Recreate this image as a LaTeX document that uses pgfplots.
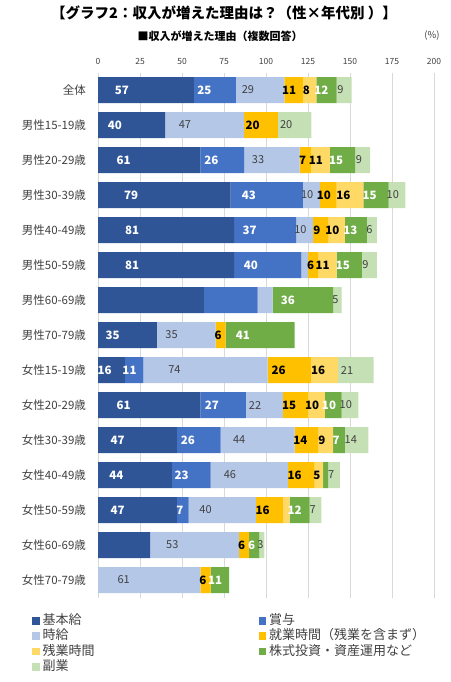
\documentclass[border=0pt]{standalone}
\usepackage{fontspec}
\setmainfont{Noto Sans CJK JP}
\usepackage{pgfplots}
\usepackage{pgfplotstable}
\pgfplotsset{compat=1.18}
\definecolor{c1}{HTML}{2F5597}
\definecolor{c2}{HTML}{4472C4}
\definecolor{c3}{HTML}{B4C7E7}
\definecolor{c4}{HTML}{FFC000}
\definecolor{c5}{HTML}{FFD966}
\definecolor{c6}{HTML}{70AD47}
\definecolor{c7}{HTML}{C5E0B4}
\definecolor{gridc}{HTML}{D9D9D9}
\definecolor{txt}{HTML}{404040}

\pgfplotstableread{
y  b1 b2 b3 b4 b5 b6 b7 h1 h2 h3 h4 h5 h6 h7
0  57 25 29 11  8 12  9  1  1  1  1  1  1  1
1  40  0 47 20  0  0 20  1  0  1  1  0  0  1
2  61 26 33  7 11 15  9  1  1  1  1  1  1  1
3  79 43 10 10 16 15 10  1  1  1  1  1  1  1
4  81 37 10  9 10 13  6  1  1  1  1  1  1  1
5  81 40  4  6 11 15  9  1  1  0  1  1  1  1
6  63 32  9  0  0 36  5  0  0  0  0  0  1  1
7  35  0 35  6  0 41  0  1  0  1  1  0  1  0
8  16 11 74 26 16  0 21  1  1  1  1  1  0  1
9  61 27 22 15 10 10 10  1  1  1  1  1  1  1
10 47 26 44 14  9  7 14  1  1  1  1  1  1  1
11 44 23 46 16  5  3  7  1  1  1  1  1  0  1
12 47  7 40 16  4 12  7  1  1  1  1  0  1  1
13 31  0 53  6  0  6  3  0  0  1  1  0  1  1
14  0  0 61  6  0 11  0  0  0  1  1  0  1  0
}\data

\pgfplotsset{
  lab/.style={
    visualization depends on={\thisrow{b#1} \as \xv},
    visualization depends on={\thisrow{h#1} \as \hf},
    nodes near coords={\ifdim\hf pt>0.5pt\pgfmathprintnumber{\xv}\fi},
    every node near coord/.append style={anchor=center, inner sep=0pt, xshift={-0.42pt*\xv}},
  },
  wb/.style={every node near coord/.append style={text=white, font=\fontsize{11.5}{12}\selectfont\bfseries}},
  kb/.style={every node near coord/.append style={text=black, font=\fontsize{11.5}{12}\selectfont\bfseries}},
  gn/.style={every node near coord/.append style={text=txt, font=\fontsize{11}{12}\selectfont}},
}

\begin{document}
\begin{tikzpicture}
\path[use as bounding box] (0pt,0pt) rectangle (450pt,-682pt);
\node[font=\fontsize{14.5}{16}\selectfont\bfseries, text=black] at (224pt,-13pt) {【グラフ2：収入が増えた理由は？（性×年代別 ）】};
\node[font=\fontsize{11}{13}\selectfont\bfseries, text=black] at (220pt,-36pt) {■収入が増えた理由（複数回答）};
\node[font=\fontsize{9.5}{11}\selectfont, text=txt] at (432pt,-36pt) {(\%)};
\begin{axis}[
  at={(98pt,-72.5pt)}, anchor=north west,
  x=1.68pt, y=35pt,
  xbar stacked, bar width=26pt,
  xmin=0, xmax=200, ymin=-0.5, ymax=14.5,
  y dir=reverse,
  axis x line*=top, axis y line*=left,
  x axis line style={draw=none},
  y axis line style={draw=gridc, line width=0.8pt},
  major tick length=0pt,
  xtick={0,25,...,200},
  xmajorgrids, grid style={draw=gridc, line width=0.8pt},
  /pgf/number format/assume math mode=true,
  xticklabel style={font=\fontsize{8.5}{10}\selectfont, text=txt, yshift=4pt},
  ytick={0,...,14},
  yticklabels={全体,男性15-19歳,男性20-29歳,男性30-39歳,男性40-49歳,男性50-59歳,男性60-69歳,男性70-79歳,女性15-19歳,女性20-29歳,女性30-39歳,女性40-49歳,女性50-59歳,女性60-69歳,女性70-79歳},
  yticklabel style={font=\fontsize{11.5}{13}\selectfont, text=txt, xshift=-8.5pt},
  legend columns=2,
  legend cell align=left,
  legend style={at={(axis description cs:-0.1973,-0.031)}, anchor=north west, draw=none, fill=none, inner sep=0pt,
    font=\fontsize{13}{15}\selectfont, text=txt,
    nodes={inner xsep=0pt, inner ysep=1pt, text height=9.5pt, text depth=2.5pt, anchor=west},
    row sep=1.3pt,
    /tikz/every odd column/.style={column sep=3pt},
    /tikz/every even column/.style={column sep=0pt}},
  legend image code/.code={\fill[#1] (0pt,-3.8pt) rectangle (7.6pt,3.8pt);},
]
\addplot[fill=c1, draw=none, lab=1, wb] table[x=b1, y=y] {\data};
\addplot[fill=c2, draw=none, lab=2, wb] table[x=b2, y=y] {\data};
\addplot[fill=c3, draw=none, lab=3, gn] table[x=b3, y=y] {\data};
\addplot[fill=c4, draw=none, lab=4, kb] table[x=b4, y=y] {\data};
\addplot[fill=c5, draw=none, lab=5, kb] table[x=b5, y=y] {\data};
\addplot[fill=c6, draw=none, lab=6, wb] table[x=b6, y=y] {\data};
\addplot[fill=c7, draw=none, lab=7, gn] table[x=b7, y=y] {\data};
\legend{\makebox[216pt][l]{基本給},賞与,\makebox[216pt][l]{時給},就業時間（残業を含まず）,\makebox[216pt][l]{残業時間},株式投資・資産運用など,\makebox[216pt][l]{副業}}
\end{axis}
\end{tikzpicture}
\end{document}
